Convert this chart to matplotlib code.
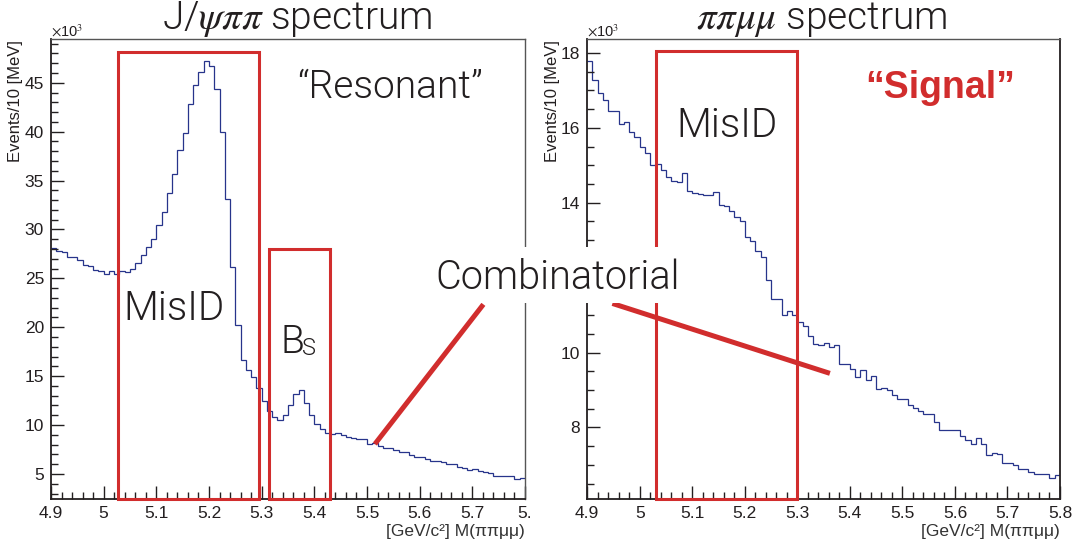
import numpy as np
import matplotlib
matplotlib.use("Agg")
import matplotlib.pyplot as plt
from matplotlib.patches import Rectangle
from matplotlib.ticker import MultipleLocator, FuncFormatter

# ---------------- data (events per 10 MeV, in units of 10^3) ----------------
bin_edges = np.round(np.linspace(4.90, 5.80, 91), 2)   # GeV/c^2

jpsipipi = [28.1, 27.8, 27.7, 27.2, 27.2, 26.85, 26.4, 26.3, 25.9, 25.7,
            25.45, 25.7, 25.4, 25.8, 25.65, 26.0, 26.55, 27.4, 28.2, 29.0,
            30.5, 31.8, 33.7, 35.7, 38.1, 39.9, 42.8, 44.8, 46.1, 47.2,
            46.7, 44.4, 40.0, 33.1, 26.2, 20.2, 16.7, 15.6, 14.9, 13.8,
            12.5, 11.4, 10.8, 10.5, 11.0, 12.0, 13.2, 13.6, 12.3, 11.0,
            10.15, 9.6, 9.15, 9.1, 9.15, 9.0, 8.8, 8.65, 8.55, 8.55,
            8.05, 8.15, 7.9, 7.7, 7.7, 7.4, 7.2, 7.2, 6.95, 6.7,
            6.7, 6.5, 6.35, 6.35, 6.2, 6.0, 6.0, 5.75, 5.6, 5.4,
            5.5, 5.3, 5.15, 5.05, 4.8, 4.8, 4.8, 4.75, 4.5, 4.55]

pipimumu = [17.79, 17.27, 16.94, 16.73, 16.45, 16.45, 16.1, 16.15, 15.9, 15.75,
            15.48, 15.32, 15.0, 15.04, 14.88, 14.69, 14.57, 14.55, 14.8, 14.3,
            14.25, 14.22, 14.2, 14.2, 14.28, 13.93, 13.91, 13.77, 13.62, 13.51,
            13.08, 12.98, 12.71, 12.55, 11.93, 11.42, 11.42, 11.0, 11.1, 11.0,
            10.82, 10.71, 10.45, 10.22, 10.2, 10.26, 10.15, 10.19, 9.69, 9.7,
            9.56, 9.35, 9.53, 9.28, 9.37, 9.02, 9.05, 8.99, 8.86, 8.75,
            8.77, 8.61, 8.53, 8.43, 8.35, 8.36, 8.15, 7.93, 7.93, 7.93,
            7.93, 7.77, 7.66, 7.55, 7.71, 7.57, 7.26, 7.32, 7.28, 7.04,
            7.05, 7.0, 6.9, 6.9, 6.81, 6.77, 6.75, 6.75, 6.64, 6.72]

# regions (x range in GeV/c^2, top in 10^3 events)
left_misid = (5.027, 5.295, 48.17)
left_bs = (5.313, 5.429, 27.97)
right_misid = (5.031, 5.300, 18.045)
# "Combinatorial" pointer lines (x, y) in data coordinates
left_pointer = ([5.515, 5.721], [8.06, 22.34])
right_pointer = ([4.948, 5.362], [11.31, 9.444])

# ---------------- style ----------------
plt.rcParams["mathtext.fontset"] = "stix"
TICKFONT = "Liberation Sans"
LIGHT = "Roboto"
DARK = "#231f20"
RED = "#d12d2d"
HIST = "#27348b"

W, H = 1081, 549
fig = plt.figure(figsize=(W / 100, H / 100), dpi=100)
fig.patch.set_facecolor("white")


def rect_px(x0, x1, y0, y1):
    return [x0 / W, 1 - y1 / H, (x1 - x0) / W, (y1 - y0) / H]


def ftext(x, y, s, **kw):
    return fig.text(x / W, 1 - y / H, s, **kw)


axL = fig.add_axes(rect_px(51, 525, 39.3, 499))
axR = fig.add_axes(rect_px(587.2, 1060, 39, 499))


def style_axis(ax, ylim, ymaj, ymin, last_label, hidden_y=()):
    ax.set_xlim(4.9, 5.8)
    ax.set_ylim(*ylim)
    ax.xaxis.set_major_locator(MultipleLocator(0.1))
    ax.xaxis.set_minor_locator(MultipleLocator(0.02))
    ax.yaxis.set_major_locator(MultipleLocator(ymaj))
    ax.yaxis.set_minor_locator(MultipleLocator(ymin))

    def xfmt(v, pos):
        if abs(v - 5.8) < 1e-6:
            return last_label
        return f"{v:g}"

    def yfmt(v, pos):
        if any(abs(v - h) < 1e-6 for h in hidden_y):
            return ""   # covered by the "Combinatorial" label in the original
        return f"{v:g}"

    ax.xaxis.set_major_formatter(FuncFormatter(xfmt))
    ax.yaxis.set_major_formatter(FuncFormatter(yfmt))
    ax.tick_params(which="both", direction="in", top=False, right=False,
                   colors=DARK, width=1.0)
    ax.tick_params(which="major", length=9.5, labelsize=12.5, pad=5)
    ax.tick_params(which="minor", length=5)
    for lab in ax.get_xticklabels() + ax.get_yticklabels():
        lab.set_fontfamily(TICKFONT)
    for side in ("left", "bottom"):
        ax.spines[side].set_color(DARK)
        ax.spines[side].set_linewidth(1.3)
    for side in ("top", "right"):
        ax.spines[side].set_color("#555555")
        ax.spines[side].set_linewidth(1.0)


style_axis(axL, (2.44, 49.44), 5, 1, "5.")
style_axis(axR, (6.09, 18.37), 2, 0.5, "5.8", hidden_y=(12,))
axR.spines["right"].set_color(DARK)
axR.spines["right"].set_linewidth(1.3)

axL.stairs(jpsipipi, bin_edges, baseline=None, color=HIST, lw=0.9)
axR.stairs(pipimumu, bin_edges, baseline=None, color=HIST, lw=0.9)

# red boxes
for ax, (x0, x1, top) in ((axL, left_misid), (axL, left_bs), (axR, right_misid)):
    y0 = ax.get_ylim()[0]
    ax.add_patch(Rectangle((x0, y0), x1 - x0, top - y0, fill=False,
                           edgecolor=RED, lw=2.2, clip_on=False, zorder=5))

axL.plot(*left_pointer, color=RED, lw=3.6, solid_capstyle="butt",
         clip_on=False, zorder=6)
axR.plot(*right_pointer, color=RED, lw=3.6, solid_capstyle="butt",
         clip_on=False, zorder=6)

# white band behind "Combinatorial"
fig.patches.append(Rectangle((432 / W, 1 - 303 / H), (688 - 432) / W, (303 - 247) / H,
                             transform=fig.transFigure, facecolor="white",
                             edgecolor="none", zorder=2))

# ---------------- texts ----------------
tkw = dict(color=DARK, fontfamily=LIGHT, fontweight=300)
ftext(297, 29, r"J/$\psi\pi\pi$ spectrum", ha="center", va="baseline",
      fontsize=28, **tkw)
ftext(822, 29, r"$\pi\pi\mu\mu$ spectrum", ha="center", va="baseline",
      fontsize=28, **tkw)

for x in (51, 587):
    ftext(x, 37, r"$\times$10$^{3}$", ha="left", va="baseline", fontsize=10.5,
          color=DARK, fontfamily=TICKFONT)
for x in (16, 553):
    ftext(x, 40, "Events/10 [MeV]", ha="center", va="top", rotation=90,
          fontsize=12, color=DARK, fontfamily=TICKFONT)
for x in (525, 1060):
    ftext(x, 536, "[GeV/c²] M(ππμμ)", ha="right", va="baseline",
          fontsize=12.5, color="#333333", fontfamily=TICKFONT)

ftext(390, 98, "\u201cResonant\u201d", ha="center", va="baseline", fontsize=28, **tkw)
ftext(174, 320, "MisID", ha="center", va="baseline", fontsize=29, **tkw)
ftext(280, 353, "B", ha="left", va="baseline", fontsize=28, **tkw)
ftext(302, 355, "S", ha="left", va="baseline", fontsize=17, **tkw)
ftext(727, 137, "MisID", ha="center", va="baseline", fontsize=29, **tkw)
ftext(940, 98, "\u201cSignal\u201d", ha="center", va="baseline", fontsize=27,
      color=RED, fontfamily=TICKFONT, fontweight="bold")
t = ftext(558, 289, "Combinatorial", ha="center", va="baseline", fontsize=28.5, **tkw)
t.set_zorder(4)

fig.savefig("out.png", dpi=100, facecolor="white")
